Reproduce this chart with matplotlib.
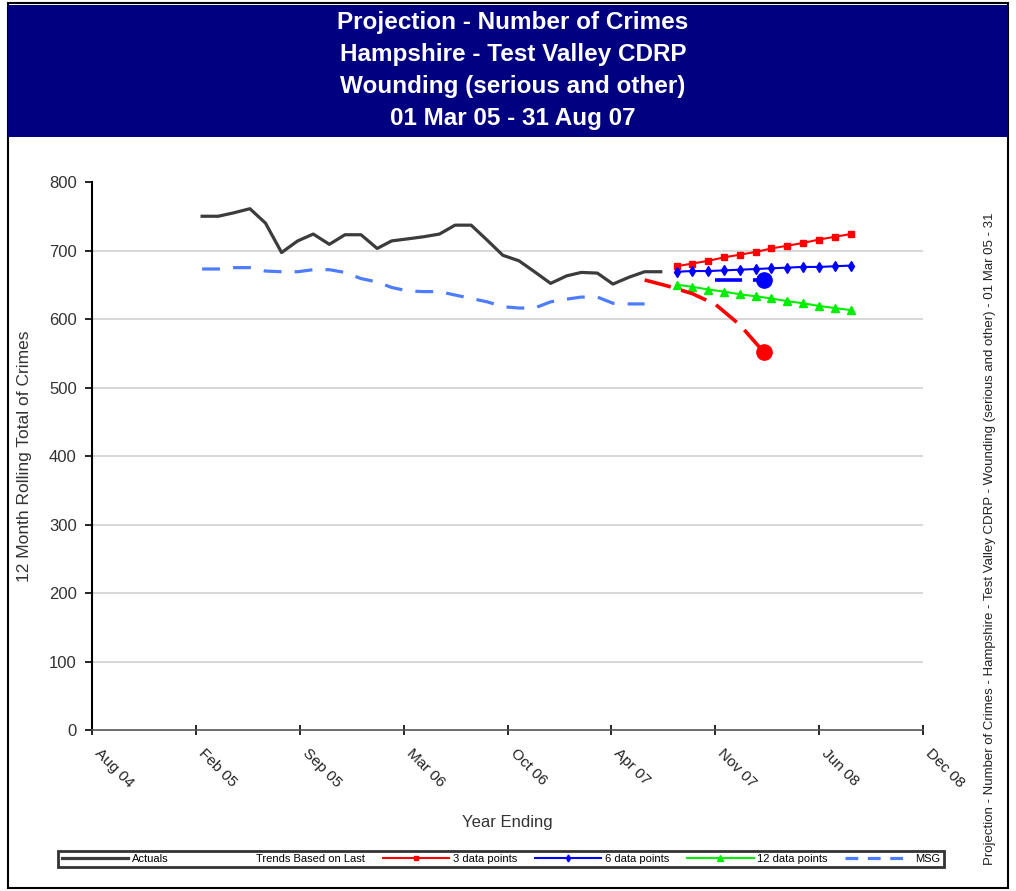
import pandas as pd
import matplotlib
matplotlib.use("Agg")
import matplotlib.pyplot as plt
from matplotlib.lines import Line2D
from matplotlib.patches import Rectangle
from matplotlib import font_manager

# values
actual_dates = pd.date_range("2005-03-01", periods=30, freq="MS")
actual_values = [750, 750, 755, 761, 740, 697, 714, 724, 709, 723,
                 723, 703, 714, 717, 720, 724, 737, 737, 715, 693,
                 685, 669, 652, 663, 668, 667, 651, 661, 669, 669]

msg_dates = actual_dates[:29]
msg_values = [673, 673, 675, 675, 670, 669, 669, 672, 672, 668,
              659, 654, 646, 641, 640, 640, 635, 630, 625, 618,
              616, 616, 625, 629, 632, 632, 623, 622, 622]

proj_dates = pd.date_range("2007-09-01", periods=12, freq="MS")
trend3_values = [677, 681, 685, 690, 694, 698, 703, 707, 711, 716, 720, 724]
trend6_values = [669, 670, 670, 671, 672, 673, 674, 675, 676, 676, 677, 678]
trend12_values = [650, 647, 643, 640, 636, 633, 630, 626, 623, 619, 616, 613]

red_target_dates = pd.to_datetime(["2007-07-01", "2007-08-15", "2007-10-01",
                                   "2007-11-15", "2008-01-01", "2008-02-15"])
red_target_values = [657, 648, 637, 621, 591, 552]
blue_target_dates = pd.to_datetime(["2007-11-13", "2008-02-15"])
blue_target_values = [657, 657]

x_tick_dates = pd.date_range("2004-08-01", periods=9, freq="200D")
x_tick_labels = ["Aug 04", "Feb 05", "Sep 05", "Mar 06", "Oct 06",
                 "Apr 07", "Nov 07", "Jun 08", "Dec 08"]
y_ticks = [0, 100, 200, 300, 400, 500, 600, 700, 800]

title_lines = ["Projection - Number of Crimes",
               "Hampshire - Test Valley CDRP",
               "Wounding (serious and other)",
               "01 Mar 05 - 31 Aug 07"]
side_text = ("Projection - Number of Crimes - Hampshire - Test Valley CDRP - "
             "Wounding (serious and other) - 01 Mar 05 - 31")


def pick_font(candidates):
    names = {f.name for f in font_manager.fontManager.ttflist}
    for c in candidates:
        if c in names:
            return c
    return "DejaVu Sans"


narrow = pick_font(["Liberation Sans Narrow", "Liberation Sans"])
regular = pick_font(["Liberation Sans", "DejaVu Sans"])
plt.rcParams["font.family"] = [regular, "DejaVu Sans"]

W, H = 1016, 891
fig = plt.figure(figsize=(W / 100, H / 100), dpi=100)

# outer frame and navy title banner
fig.patches.append(Rectangle((8 / W, 3 / H), 1000 / W, 885 / H, transform=fig.transFigure,
                             facecolor="none", edgecolor="black", linewidth=1.5, zorder=0))
fig.patches.append(Rectangle((8 / W, 1 - 137 / H), 1000 / W, 132 / H, transform=fig.transFigure,
                             facecolor="#000080", edgecolor="none", zorder=1))
for i, line in enumerate(title_lines):
    fig.text(513 / W, 1 - (22 + 32 * i) / H, line, ha="center", va="center", color="white",
             fontsize=17.5, fontweight="bold", family=[narrow, "DejaVu Sans"])

ax = fig.add_axes([92 / W, 1 - 730 / H, 831 / W, 548 / H], zorder=3)
ax.patch.set_alpha(0)

for v in y_ticks[1:-1]:
    ax.axhline(v, color="#d4d4d4", lw=1.3, zorder=0)

ax.plot(actual_dates, actual_values, color="#3c3c3c", lw=2.3, label="Actuals", zorder=3)
ax.plot(msg_dates, msg_values, color="#4d7cff", lw=2.3, dashes=(5.6, 4.1), label="MSG", zorder=3)

l3, = ax.plot(proj_dates, trend3_values, color="#ff0000", lw=1.5, marker="s", ms=5,
              label="3 data points", zorder=4)
l6, = ax.plot(proj_dates, trend6_values, color="#0000ff", lw=1.5, marker="d", ms=5,
              label="6 data points", zorder=4)
l12, = ax.plot(proj_dates, trend12_values, color="#00ee00", lw=1.5, marker="^", ms=6,
               label="12 data points", zorder=4)

ax.plot(red_target_dates, red_target_values, color="#ff0000", lw=2.6, dashes=(7.5, 3),
        zorder=5)
ax.plot(red_target_dates[-1:], red_target_values[-1:], "o", color="#ff0000", ms=11, zorder=6)
ax.plot(blue_target_dates, blue_target_values, color="#0000ff", lw=2.6, dashes=(7.5, 3),
        zorder=5)
ax.plot(blue_target_dates[-1:], blue_target_values[-1:], "o", color="#0000ff", ms=11, zorder=6)

ax.set_xlim(x_tick_dates[0], x_tick_dates[-1])
ax.set_ylim(0, 800)
ax.set_yticks(y_ticks)
ax.set_xticks(x_tick_dates)
# labels run down-right from each tick, as in the Excel original
ax.set_xticklabels(x_tick_labels, rotation=-45, ha="left", va="bottom", rotation_mode="anchor")

for s in ["top", "right"]:
    ax.spines[s].set_visible(False)
ax.spines["left"].set_linewidth(1.5)
ax.spines["bottom"].set_linewidth(1.2)
ax.spines["bottom"].set_color("#555555")
ax.tick_params(axis="y", direction="out", length=5, width=1.2, labelsize=12,
               labelcolor="#333333", pad=6)
ax.tick_params(axis="x", direction="inout", length=7, width=1.2, labelsize=11,
               labelcolor="#222222", pad=15)

ax.set_ylabel("12 Month Rolling Total of Crimes", fontsize=12.5, color="#333333")
ax.yaxis.set_label_coords(-0.072, 0.5)
ax.set_xlabel("Year Ending", fontsize=12, color="#333333")
ax.xaxis.set_label_coords(0.5, -0.155)

# legend row at the bottom
blank = Line2D([], [], color="none")
handles = [Line2D([], [], color="#3c3c3c", lw=2.3), blank, l3, l6, l12,
           Line2D([], [], color="#4d7cff", lw=2.3, dashes=(4, 3))]
labels = ["Actuals", "Trends Based on Last", "3 data points", "6 data points",
          "12 data points", "MSG"]
leg = fig.legend(handles, labels, loc="center", bbox_to_anchor=(501 / W, 1 - 859 / H),
                 ncol=6, frameon=True, fancybox=False, edgecolor="black",
                 handlelength=6, handletextpad=0.3, columnspacing=1.6, borderpad=0.3,
                 markerscale=0.7, prop={"family": [narrow, "DejaVu Sans"], "size": 8})
leg.get_frame().set_linewidth(2)

fig.text(990 / W, 1 - 865 / H, side_text, rotation=90, ha="center", va="bottom",
         fontsize=9.5, color="#222222", family=[narrow, "DejaVu Sans"])

fig.savefig("out.png", dpi=100)
